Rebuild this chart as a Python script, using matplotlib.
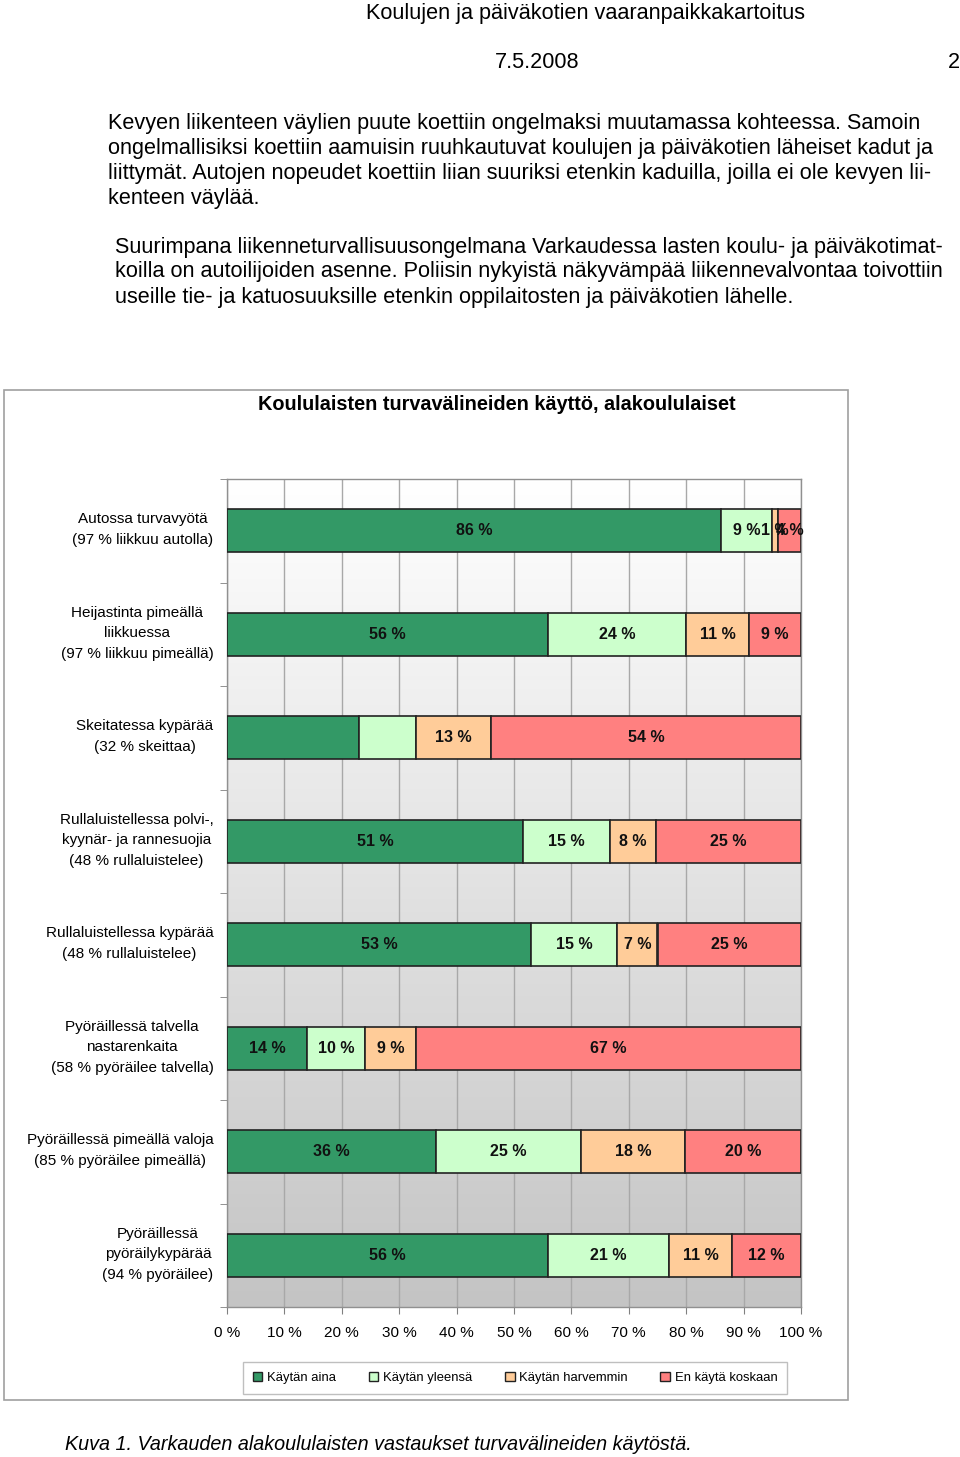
import numpy as np
import matplotlib
matplotlib.use("Agg")
import matplotlib.pyplot as plt
import matplotlib.transforms as mtransforms
from matplotlib.patches import Rectangle, Patch
from matplotlib.colors import LinearSegmentedColormap

plt.rcParams['font.family'] = ['Liberation Sans', 'DejaVu Sans']

# ---------------- data ----------------
categories = [
    "Autossa turvavyötä\n(97 % liikkuu autolla)",
    "Heijastinta pimeällä\nliikkuessa\n(97 % liikkuu pimeällä)",
    "Skeitatessa kypärää\n(32 % skeittaa)",
    "Rullaluistellessa polvi-,\nkyynär- ja rannesuojia\n(48 % rullaluistelee)",
    "Rullaluistellessa kypärää\n(48 % rullaluistelee)",
    "Pyöräillessä talvella\nnastarenkaita\n(58 % pyöräilee talvella)",
    "Pyöräillessä pimeällä valoja\n(85 % pyöräilee pimeällä)",
    "Pyöräillessä\npyöräilykypärää\n(94 % pyöräilee)",
]
series_names = ["Käytän aina", "Käytän yleensä", "Käytän harvemmin", "En käytä koskaan"]
kaytan_aina = [86, 56, 23, 51, 53, 14, 36, 56]
kaytan_yleensa = [9, 24, 10, 15, 15, 10, 25, 21]
kaytan_harvemmin = [1, 11, 13, 8, 7, 9, 18, 11]
en_kayta_koskaan = [4, 9, 54, 25, 25, 67, 20, 12]
hidden_labels = [(2, 0), (2, 1)]  # (category, series) labels not shown in original
x_ticks = [0, 10, 20, 30, 40, 50, 60, 70, 80, 90, 100]
x_tick_labels = [f"{t} %" for t in x_ticks]

header = "Koulujen ja päiväkotien vaaranpaikkakartoitus"
date = "7.5.2008"
page = "2"
para1 = ["Kevyen liikenteen väylien puute koettiin ongelmaksi muutamassa kohteessa. Samoin",
         "ongelmallisiksi koettiin aamuisin ruuhkautuvat koulujen ja päiväkotien läheiset kadut ja",
         "liittymät. Autojen nopeudet koettiin liian suuriksi etenkin kaduilla, joilla ei ole kevyen lii-",
         "kenteen väylää."]
para2 = ["Suurimpana liikenneturvallisuusongelmana Varkaudessa lasten koulu- ja päiväkotimat-",
         "koilla on autoilijoiden asenne. Poliisin nykyistä näkyvämpää liikennevalvontaa toivottiin",
         "useille tie- ja katuosuuksille etenkin oppilaitosten ja päiväkotien lähelle."]
chart_title = "Koululaisten turvavälineiden käyttö, alakoululaiset"
caption = "Kuva 1. Varkauden alakoululaisten vastaukset turvavälineiden käytöstä."

colors = ["#339966", "#CCFFCC", "#FFCC99", "#FF8080"]

# ---------------- figure ----------------
W, H = 960, 1457
fig = plt.figure(figsize=(W / 100, H / 100), dpi=100)
fig.patch.set_facecolor("white")

def fx(px):
    return px / W

def fy(py):
    return 1 - py / H

# document text
fs_doc = 15.6
fig.text(fx(586), fy(13), header, ha="center", va="center", fontsize=fs_doc)
fig.text(fx(537), fy(62), date, ha="center", va="center", fontsize=fs_doc)
fig.text(fx(960), fy(62), page, ha="right", va="center", fontsize=fs_doc)
for i, line in enumerate(para1):
    fig.text(fx(108), fy(124 + i * 24.7), line, ha="left", va="center", fontsize=fs_doc)
for i, line in enumerate(para2):
    fig.text(fx(115), fy(247 + i * 25), line, ha="left", va="center", fontsize=fs_doc)
fig.text(fx(65), fy(1445), caption, ha="left", va="center", fontsize=14.2, style="italic")

# chart box
fig.patches.append(Rectangle((fx(4), fy(1400)), fx(848) - fx(4), fy(390) - fy(1400),
                             transform=fig.transFigure, fill=False,
                             edgecolor="#A0A0A0", linewidth=1.2, zorder=0))
fig.text(fx(497), fy(405), chart_title, ha="center", va="center",
         fontsize=14.3, fontweight="bold")

# axes
ax = fig.add_axes([fx(227), fy(1307), fx(801) - fx(227), fy(479) - fy(1307)])

data = np.array([kaytan_aina, kaytan_yleensa, kaytan_harvemmin, en_kayta_koskaan], dtype=float)
pct = data / data.sum(axis=0) * 100
y = np.arange(len(categories))

# gradient background
grad = np.linspace(1, 0, 256).reshape(-1, 1)
cmap = LinearSegmentedColormap.from_list("bg", ["#C4C4C4", "#FFFFFF"])
ax.imshow(grad, extent=[0, 1, 0, 1], transform=ax.transAxes, cmap=cmap,
          aspect="auto", zorder=0, origin="upper", vmin=0, vmax=1)

left = np.zeros(len(categories))
for s in range(4):
    ax.barh(y, pct[s], left=left, height=0.42, color=colors[s],
            edgecolor="#222222", linewidth=1.2, zorder=3, label=series_names[s])
    for c in range(len(categories)):
        if (c, s) in hidden_labels:
            continue
        ax.text(left[c] + pct[s][c] / 2, y[c], f"{int(data[s][c])} %",
                ha="center", va="center", fontsize=11.5, fontweight="bold",
                color="#111111", zorder=4)
    left += pct[s]

ax.set_xlim(0, 100)
ax.set_ylim(len(categories) - 0.5, -0.5)
ax.set_xticks(x_ticks)
ax.set_xticklabels(x_tick_labels, fontsize=11)

# category labels (drawn at each category position)
ax.set_yticks(y)
ax.set_yticklabels([])
label_tr = mtransforms.blended_transform_factory(ax.transAxes, ax.transData)
for c, cat in enumerate(categories):
    ax.text(-0.0235, y[c] - 0.01, cat, transform=label_tr, ha="right", va="center",
            multialignment="center", linespacing=1.6, fontsize=11, clip_on=False)

ax.set_yticks(np.arange(-0.5, len(categories), 1), minor=True)
ax.tick_params(axis="y", which="major", length=0)
ax.tick_params(axis="y", which="minor", length=5, color="#808080", direction="out")
ax.tick_params(axis="x", length=5, color="#808080", pad=9)
ax.grid(axis="x", color="#A8A8A8", linewidth=1, zorder=1)
ax.set_axisbelow(True)
for sp in ax.spines.values():
    sp.set_color("#909090")
    sp.set_linewidth(1)

handles = [Patch(facecolor=colors[i], edgecolor="#222222", label=series_names[i]) for i in range(4)]
leg = fig.legend(handles=handles, loc="center", bbox_to_anchor=(fx(515), fy(1378)),
                 ncol=4, fontsize=9.4, frameon=True, fancybox=False,
                 handlelength=0.75, handleheight=0.75, handletextpad=0.35,
                 columnspacing=2.5, borderpad=0.75)
leg.get_frame().set_edgecolor("#B0B0B0")
leg.get_frame().set_linewidth(1)

fig.savefig("out.png", dpi=100)
